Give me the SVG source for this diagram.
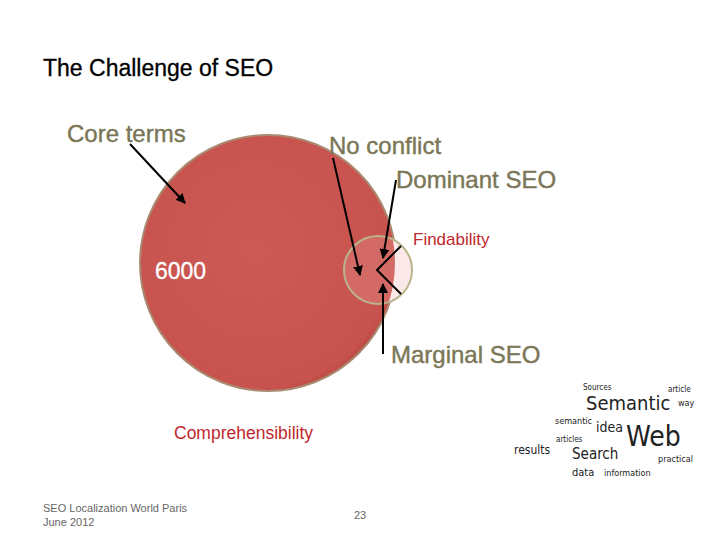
<svg xmlns="http://www.w3.org/2000/svg" width="720" height="540" viewBox="0 0 720 540">
<defs>
<marker id="ah" viewBox="0 0 10 10" refX="9" refY="5" markerWidth="5" markerHeight="5" orient="auto"><path d="M0,0 L10,5 L0,10 z" fill="#000"/></marker>
<radialGradient id="rg" cx="0.45" cy="0.45" r="0.6"><stop offset="0" stop-color="#cd5a55"/><stop offset="0.9" stop-color="#c8534e"/><stop offset="1" stop-color="#b0413d"/></radialGradient>
<clipPath id="sc"><circle cx="378" cy="270" r="34"/></clipPath>
</defs>
<style>
.t{font-family:"Liberation Sans",Calibri,sans-serif}
.ol{fill:#7a7656;font-size:24px;stroke:#7a7656;stroke-width:0.4}
.red{fill:#c0272d}
.ar{stroke:#000;stroke-width:2;fill:none;marker-end:url(#ah)}
.wc{font-family:"DejaVu Sans Condensed","DejaVu Sans",sans-serif;fill:#222}
</style>
<rect width="720" height="540" fill="#fff"/>
<text class="t" x="43" y="76" font-size="23" fill="#000" stroke="#000" stroke-width="0.3">The Challenge of SEO</text>
<g id="bigcircle"><circle cx="268" cy="263" r="128" fill="url(#rg)" stroke="#a98a70" stroke-width="2"/></g>
<g id="smallcircle">
<circle cx="378" cy="270" r="34" fill="#fbe9e9"/>
<circle cx="268" cy="263" r="127" fill="#d36a65" clip-path="url(#sc)"/>
<circle cx="378" cy="270" r="34" fill="none" stroke="#b9b48c" stroke-width="2"/>
</g>
<g id="labels">
<text class="t ol" x="67" y="142">Core terms</text>
<text class="t ol" x="329" y="154">No conflict</text>
<text class="t ol" x="396" y="188">Dominant SEO</text>
<text class="t ol" x="391" y="363">Marginal SEO</text>
<text class="t red" x="413" y="245" font-size="17">Findability</text>
<text class="t" x="155" y="279" font-size="23" fill="#fff" stroke="#fff" stroke-width="0.3">6000</text>
<text class="t red" x="174" y="439" font-size="17.5">Comprehensibility</text>
<text class="t" x="43" y="512" font-size="11" fill="#666">SEO Localization World Paris</text>
<text class="t" x="43" y="526" font-size="11" fill="#666">June 2012</text>
<text class="t" x="354" y="519" font-size="11" fill="#666">23</text>
</g>
<g id="connectors">
<line class="ar" x1="130" y1="144" x2="185" y2="203"/>
<line class="ar" x1="333" y1="158" x2="360" y2="275"/>
<line class="ar" x1="396" y1="180" x2="383" y2="258"/>
<line class="ar" x1="383" y1="354" x2="383" y2="284"/>
<polyline points="401,246 377,270 401,294" stroke="#000" stroke-width="2" fill="none"/>
</g>
<g id="wordcloud">
<text class="wc" x="583" y="390" font-size="8">Sources</text>
<text class="wc" x="586" y="410" font-size="20">Semantic</text>
<text class="wc" x="668" y="392" font-size="8">article</text>
<text class="wc" x="555" y="424" font-size="9">semantic</text>
<text class="wc" x="596" y="432" font-size="14">idea</text>
<text class="wc" x="626" y="446" font-size="28">Web</text>
<text class="wc" x="678" y="406" font-size="9">way</text>
<text class="wc" x="658" y="462" font-size="9">practical</text>
<text class="wc" x="514" y="454" font-size="12">results</text>
<text class="wc" x="556" y="442" font-size="8">articles</text>
<text class="wc" x="572" y="459" font-size="15">Search</text>
<text class="wc" x="572" y="476" font-size="11">data</text>
<text class="wc" x="604" y="476" font-size="9">information</text>
</g>
</svg>
